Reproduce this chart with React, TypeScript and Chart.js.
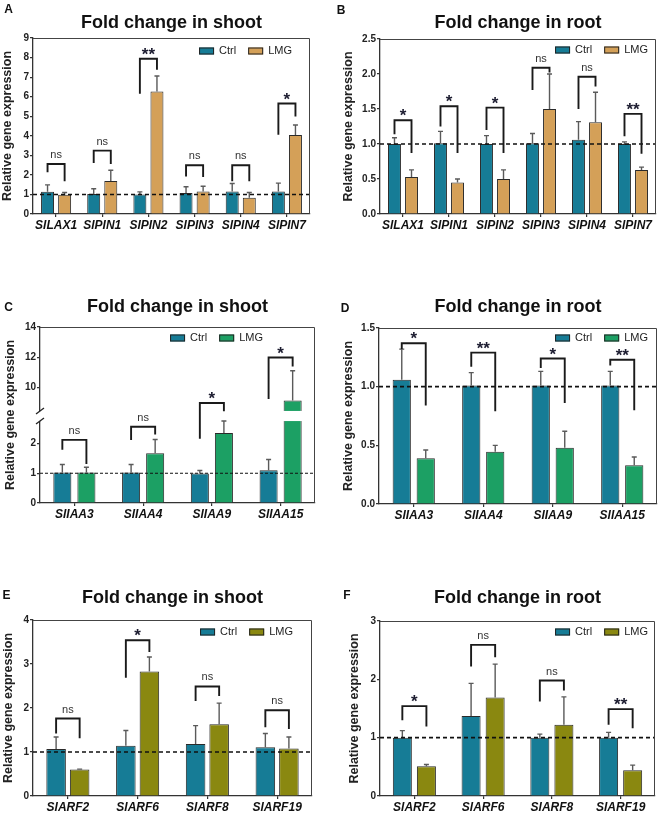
import React, { useEffect, useRef } from "react";
import { Chart, registerables } from "chart.js";
Chart.register(...registerables);

const FONT = '"Liberation Sans", Arial, sans-serif';
const CTRL_COLOR = "#167c96";
const TAN = "#d4a058";
const GREEN = "#1ca064";
const OLIVE = "#8a8810";

// ---------- Panel A: auxin transport genes, shoot ----------
const catsA = ["SlLAX1", "SlPIN1", "SlPIN2", "SlPIN3", "SlPIN4", "SlPIN7"];
const ctrlA = [1.14, 1.02, 1.0, 1.07, 1.15, 1.15];
const ctrlErrA = [1.49, 1.29, 1.13, 1.39, 1.56, 1.58];
const lmgA = [0.98, 1.69, 6.27, 1.15, 0.83, 4.04];
const lmgErrA = [1.1, 2.24, 7.06, 1.42, 1.1, 4.55];
const brTopA = [2.56, 3.24, 7.94, 2.49, 2.49, 5.65];
const brLeftA = [2.13, 2.61, 6.15, 1.92, 1.67, 4.05];
const brRightA = [1.67, 2.56, 7.38, 1.89, 1.67, 4.99];
const sigA = ["ns", "ns", "**", "ns", "ns", "*"];
const yTicksA = [0, 1, 2, 3, 4, 5, 6, 7, 8, 9];

// ---------- Panel B: auxin transport genes, root ----------
const catsB = ["SlLAX1", "SlPIN1", "SlPIN2", "SlPIN3", "SlPIN4", "SlPIN7"];
const ctrlB = [1.0, 1.01, 1.0, 1.01, 1.06, 1.0];
const ctrlErrB = [1.09, 1.18, 1.12, 1.15, 1.32, 1.03];
const lmgB = [0.53, 0.45, 0.5, 1.5, 1.31, 0.63];
const lmgErrB = [0.63, 0.5, 0.63, 2.0, 1.74, 0.67];
const brTopB = [1.34, 1.54, 1.52, 2.09, 1.96, 1.43];
const brLeftB = [1.14, 1.25, 1.2, 1.77, 1.5, 1.11];
const brRightB = [0.87, 0.87, 0.87, 2.02, 1.82, 0.86];
const sigB = ["*", "*", "*", "ns", "ns", "**"];
const yTicksB = [0, 0.5, 1, 1.5, 2, 2.5];

// ---------- Panel C: Aux/IAA genes, shoot (broken axis) ----------
const catsC = ["SlIAA3", "SlIAA4", "SlIAA9", "SlIAA15"];
const ctrlC = [1.02, 1.02, 0.99, 1.1];
const ctrlErrC = [1.29, 1.29, 1.09, 1.46];
const lmgC = [1.02, 1.67, 2.35, 9.14];
const lmgErrC = [1.2, 2.13, 2.75, 11.1];
const brTopC = [2.12, 2.56, 8.97, 11.98];
const brLeftC = [1.79, 2.11, 2.16, 9.23];
const brRightC = [1.31, 2.3, 8.3, 11.38];
const sigC = ["ns", "ns", "*", "*"];
const yTicksC = [0, 1, 2, 10, 12, 14];

// ---------- Panel D: Aux/IAA genes, root ----------
const catsD = ["SlIAA3", "SlIAA4", "SlIAA9", "SlIAA15"];
const ctrlD = [1.06, 1.01, 1.01, 1.01];
const ctrlErrD = [1.32, 1.12, 1.13, 1.13];
const lmgD = [0.39, 0.445, 0.48, 0.33];
const lmgErrD = [0.46, 0.5, 0.62, 0.4];
const brTopD = [1.37, 1.29, 1.24, 1.23];
const brLeftD = [1.32, 1.17, 1.16, 1.18];
const brRightD = [0.84, 0.79, 0.86, 0.8];
const sigD = ["*", "**", "*", "**"];
const yTicksD = [0, 0.5, 1, 1.5];

// ---------- Panel E: ARF genes, shoot ----------
const catsE = ["SlARF2", "SlARF6", "SlARF8", "SlARF19"];
const ctrlE = [1.07, 1.14, 1.18, 1.11];
const ctrlErrE = [1.34, 1.49, 1.6, 1.42];
const lmgE = [0.6, 2.83, 1.63, 1.08];
const lmgErrE = [0.61, 3.16, 2.11, 1.34];
const brTopE = [1.76, 3.54, 2.49, 1.95];
const brLeftE = [1.42, 2.69, 2.16, 1.56];
const brRightE = [1.31, 3.27, 2.27, 1.52];
const sigE = ["ns", "*", "ns", "ns"];
const yTicksE = [0, 1, 2, 3, 4];

// ---------- Panel F: ARF genes, root ----------
const catsF = ["SlARF2", "SlARF6", "SlARF8", "SlARF19"];
const ctrlF = [1.0, 1.37, 1.0, 1.0];
const ctrlErrF = [1.12, 1.93, 1.06, 1.09];
const lmgF = [0.51, 1.69, 1.22, 0.44];
const lmgErrF = [0.54, 2.26, 1.7, 0.53];
const brTopF = [1.54, 2.59, 1.98, 1.49];
const brLeftF = [1.3, 2.22, 1.62, 1.22];
const brRightF = [1.19, 2.38, 1.81, 1.16];
const sigF = ["*", "ns", "ns", "**"];
const yTicksF = [0, 1, 2, 3];

const SERIES = ["Ctrl", "LMG"];
const Y_TITLE = "Relative gene expression";

type Brk = { lowerMax: number; upperMin: number; ratio: number; gap: number };

function makeMap(brk?: Brk) {
  if (!brk) return (v: number) => v;
  return (v: number) => {
    if (v <= brk.lowerMax) return v;
    if (v < brk.upperMin)
      return brk.lowerMax + (brk.gap * (v - brk.lowerMax)) / (brk.upperMin - brk.lowerMax);
    return brk.lowerMax + brk.gap + (v - brk.upperMin) * brk.ratio;
  };
}

const panels: any[] = [
  {
    letter: "A", title: "Fold change in shoot", cats: catsA, ctrl: ctrlA, ctrlErr: ctrlErrA,
    lmg: lmgA, lmgErr: lmgErrA, brTop: brTopA, brLeft: brLeftA, brRight: brRightA, sig: sigA,
    ticks: yTicksA, decimals: 0, lmgColor: TAN,
    box: { x: 0, y: 0, w: 330, h: 232 }, plot: { l: 33, t: 38, r: 310, b: 214 },
    titleY: 23, letterPos: [8.5, 10], yTitleX: 8, legendRight: 292, legendY: 51,
    catPct: 0.74, barPct: 0.76, dash: [4, 3], dashW: 1.6,
  },
  {
    letter: "B", title: "Fold change in root", cats: catsB, ctrl: ctrlB, ctrlErr: ctrlErrB,
    lmg: lmgB, lmgErr: lmgErrB, brTop: brTopB, brLeft: brLeftB, brRight: brRightB, sig: sigB,
    ticks: yTicksB, decimals: 1, lmgColor: TAN,
    box: { x: 330, y: 0, w: 330, h: 232 }, plot: { l: 380, t: 39, r: 656, b: 214 },
    titleY: 23, letterPos: [341, 11], yTitleX: 349, legendRight: 648, legendY: 50,
    catPct: 0.74, barPct: 0.76, dash: [4, 3], dashW: 1.6,
  },
  {
    letter: "C", title: "Fold change in shoot", cats: catsC, ctrl: ctrlC, ctrlErr: ctrlErrC,
    lmg: lmgC, lmgErr: lmgErrC, brTop: brTopC, brLeft: brLeftC, brRight: brRightC, sig: sigC,
    ticks: yTicksC, decimals: 0, lmgColor: GREEN,
    brk: { lowerMax: 2.75, upperMin: 8.44, ratio: 0.5067, gap: 0.339 },
    box: { x: 0, y: 285, w: 330, h: 255 }, plot: { l: 40, t: 327, r: 315, b: 503 },
    titleY: 307, letterPos: [8.5, 307.5], yTitleX: 11, legendRight: 263, legendY: 338,
    catPct: 0.7, barPct: 0.75, dash: [3, 2], dashW: 1.1,
  },
  {
    letter: "D", title: "Fold change in root", cats: catsD, ctrl: ctrlD, ctrlErr: ctrlErrD,
    lmg: lmgD, lmgErr: lmgErrD, brTop: brTopD, brLeft: brLeftD, brRight: brRightD, sig: sigD,
    ticks: yTicksD, decimals: 1, lmgColor: GREEN,
    box: { x: 330, y: 285, w: 330, h: 255 }, plot: { l: 379, t: 328, r: 657, b: 504 },
    titleY: 307, letterPos: [345, 309], yTitleX: 349, legendRight: 648, legendY: 338,
    catPct: 0.69, barPct: 0.76, dash: [4, 3], dashW: 1.6,
  },
  {
    letter: "E", title: "Fold change in shoot", cats: catsE, ctrl: ctrlE, ctrlErr: ctrlErrE,
    lmg: lmgE, lmgErr: lmgErrE, brTop: brTopE, brLeft: brLeftE, brRight: brRightE, sig: sigE,
    ticks: yTicksE, decimals: 0, lmgColor: OLIVE,
    box: { x: 0, y: 575, w: 330, h: 238 }, plot: { l: 33, t: 620, r: 312, b: 796 },
    titleY: 598, letterPos: [6.5, 596], yTitleX: 9, legendRight: 293, legendY: 632,
    catPct: 0.675, barPct: 0.83, dash: [4, 3], dashW: 1.6,
  },
  {
    letter: "F", title: "Fold change in root", cats: catsF, ctrl: ctrlF, ctrlErr: ctrlErrF,
    lmg: lmgF, lmgErr: lmgErrF, brTop: brTopF, brLeft: brLeftF, brRight: brRightF, sig: sigF,
    ticks: yTicksF, decimals: 0, lmgColor: OLIVE,
    box: { x: 330, y: 575, w: 330, h: 238 }, plot: { l: 380, t: 621, r: 655, b: 796 },
    titleY: 598, letterPos: [347, 596], yTitleX: 355, legendRight: 648, legendY: 632,
    catPct: 0.7, barPct: 0.79, dash: [4, 3], dashW: 1.6,
  },
];

function Panel({ cfg }: { cfg: any }) {
  const ref = useRef<HTMLCanvasElement>(null);
  useEffect(() => {
    const canvas = ref.current;
    if (!canvas) return;
    const f = makeMap(cfg.brk);
    const { box, plot } = cfg;
    const titleSize = 18;
    const titleLH = titleSize * 1.2;
    const tTop = cfg.titleY - box.y - titleLH / 2;
    const tBottom = plot.t - box.y - tTop - titleLH;
    const yTitleSize = 12.5;
    const yTitleLH = yTitleSize * 1.2;

    const annot = {
      id: "annot" + cfg.letter,
      afterDatasetsDraw(chart: any) {
        const { ctx, chartArea: ca } = chart;
        const ys = chart.scales.y;
        const py = (v: number) => ys.getPixelForValue(f(v));
        const m0 = chart.getDatasetMeta(0);
        const m1 = chart.getDatasetMeta(1);
        ctx.save();
        if (cfg.brk) {
          const yA = py(cfg.brk.upperMin);
          const yB = py(cfg.brk.lowerMax);
          [m0, m1].forEach((m: any, di: number) => {
            const vals = di === 0 ? cfg.ctrl : cfg.lmg;
            m.data.forEach((el: any, j: number) => {
              if (vals[j] > cfg.brk.lowerMax) {
                ctx.fillStyle = "#ffffff";
                ctx.fillRect(el.x - el.width / 2 - 1, yA, el.width + 2, yB - yA);
              }
            });
          });
        }
        ctx.strokeStyle = "#5a5a5a";
        ctx.lineWidth = 1.4;
        [[m0, cfg.ctrlErr], [m1, cfg.lmgErr]].forEach(([m, errs]: any) => {
          m.data.forEach((el: any, j: number) => {
            const ye = py(errs[j]);
            ctx.beginPath();
            ctx.moveTo(el.x, el.y);
            ctx.lineTo(el.x, ye);
            ctx.moveTo(el.x - 2.5, ye);
            ctx.lineTo(el.x + 2.5, ye);
            ctx.stroke();
          });
        });
        ctx.setLineDash(cfg.dash);
        ctx.strokeStyle = "#111";
        ctx.lineWidth = cfg.dashW;
        ctx.beginPath();
        ctx.moveTo(ca.left, py(1));
        ctx.lineTo(ca.right, py(1));
        ctx.stroke();
        ctx.setLineDash([]);
        ctx.strokeStyle = "#1a1a1a";
        ctx.lineWidth = 1.9;
        ctx.lineJoin = "miter";
        cfg.cats.forEach((_: string, j: number) => {
          const xl = m0.data[j].x;
          const xr = m1.data[j].x;
          const yT = py(cfg.brTop[j]);
          ctx.beginPath();
          ctx.moveTo(xl, py(cfg.brLeft[j]));
          ctx.lineTo(xl, yT);
          ctx.lineTo(xr, yT);
          ctx.lineTo(xr, py(cfg.brRight[j]));
          ctx.stroke();
          const s = cfg.sig[j];
          const xc = (xl + xr) / 2;
          ctx.textAlign = "center";
          ctx.textBaseline = "alphabetic";
          if (s === "ns") {
            ctx.font = `11px ${FONT}`;
            ctx.fillStyle = "#333";
            ctx.fillText(s, xc, yT - 6);
          } else {
            ctx.font = `bold 17px ${FONT}`;
            ctx.fillStyle = "#1c1c30";
            ctx.fillText(s, xc, yT + 1);
          }
        });
        ctx.strokeStyle = "#444";
        ctx.lineWidth = 1;
        ctx.beginPath();
        ctx.moveTo(ca.left, ca.top + 0.5);
        ctx.lineTo(ca.right - 0.5, ca.top + 0.5);
        ctx.lineTo(ca.right - 0.5, ca.bottom);
        ctx.stroke();
        if (cfg.brk) {
          const yA = py(cfg.brk.upperMin);
          const yB = py(cfg.brk.lowerMax);
          ctx.fillStyle = "#fff";
          ctx.fillRect(ca.left - 2, yA, 4, yB - yA);
          ctx.strokeStyle = "#222";
          ctx.lineWidth = 1.3;
          [yA, yB].forEach((yy: number) => {
            ctx.beginPath();
            ctx.moveTo(ca.left - 4, yy + 3);
            ctx.lineTo(ca.left + 4, yy - 3);
            ctx.stroke();
          });
        }
        ctx.restore();
      },
      afterDraw(chart: any) {
        const { ctx } = chart;
        ctx.save();
        ctx.font = `11px ${FONT}`;
        const items = chart.data.datasets.map((ds: any) => ({ label: ds.label, color: ds.backgroundColor }));
        const bw = 15, bh = 7, gapT = 5, gapI = 12;
        const widths = items.map((it: any) => bw + gapT + ctx.measureText(it.label).width);
        const total = widths.reduce((a: number, b: number) => a + b, 0) + gapI * (items.length - 1);
        let x = cfg.legendRight - box.x - total;
        const yc = cfg.legendY - box.y;
        items.forEach((it: any, i: number) => {
          ctx.fillStyle = it.color;
          ctx.fillRect(x, yc - bh / 2, bw, bh);
          ctx.strokeStyle = "#222";
          ctx.lineWidth = 1;
          ctx.strokeRect(x + 0.5, yc - bh / 2 + 0.5, bw - 1, bh - 1);
          ctx.fillStyle = "#222";
          ctx.textAlign = "left";
          ctx.textBaseline = "middle";
          ctx.fillText(it.label, x + bw + gapT, yc);
          x += widths[i] + gapI;
        });
        ctx.font = `bold 12px ${FONT}`;
        ctx.fillStyle = "#111";
        ctx.textAlign = "center";
        ctx.textBaseline = "middle";
        ctx.fillText(cfg.letter, cfg.letterPos[0] - box.x, cfg.letterPos[1] - box.y);
        ctx.restore();
      },
    };

    const tickLabels = cfg.ticks.map((v: number) => v.toFixed(cfg.decimals));
    const chart = new Chart(canvas, {
      type: "bar",
      data: {
        labels: cfg.cats,
        datasets: [
          {
            label: SERIES[0], data: cfg.ctrl.map(f), backgroundColor: CTRL_COLOR,
            borderColor: "#2a2a2a", borderWidth: 1,
            categoryPercentage: cfg.catPct, barPercentage: cfg.barPct,
          },
          {
            label: SERIES[1], data: cfg.lmg.map(f), backgroundColor: cfg.lmgColor,
            borderColor: "#2a2a2a", borderWidth: 1,
            categoryPercentage: cfg.catPct, barPercentage: cfg.barPct,
          },
        ],
      },
      options: {
        animation: false,
        responsive: false,
        devicePixelRatio: 1,
        events: [],
        layout: { padding: { left: 0, top: 0, right: box.x + box.w - plot.r, bottom: 0 } },
        plugins: {
          legend: { display: false },
          tooltip: { enabled: false },
          title: {
            display: true, text: cfg.title, fullSize: false, color: "#111",
            font: { family: FONT, size: titleSize, weight: "bold" },
            padding: { top: tTop, bottom: tBottom },
          },
        },
        scales: {
          x: {
            afterFit: (scale: any) => { scale.height = box.y + box.h - plot.b; },
            ticks: {
              autoSkip: false, maxRotation: 0, padding: 1, color: "#111",
              font: { family: FONT, size: 12, weight: "bold", style: "italic" },
            },
            grid: { drawOnChartArea: false, offset: false, tickLength: 3, color: "#333", lineWidth: 1.2 },
            border: { color: "#333", width: 1.3 },
          },
          y: {
            min: 0,
            max: f(cfg.ticks[cfg.ticks.length - 1]),
            afterFit: (scale: any) => { scale.width = plot.l - box.x; },
            afterBuildTicks: (scale: any) => {
              scale.ticks = cfg.ticks.map((v: number) => ({ value: f(v) }));
            },
            ticks: {
              padding: 1, color: "#222",
              font: { family: FONT, size: 10, weight: "bold" },
              callback: (_v: any, idx: number) => tickLabels[idx],
            },
            grid: { drawOnChartArea: false, tickLength: 3, color: "#333", lineWidth: 1.2 },
            border: { color: "#333", width: 1.3 },
            title: {
              display: true, text: Y_TITLE, color: "#222",
              font: { family: FONT, size: yTitleSize, weight: "bold" },
              padding: { top: cfg.yTitleX - box.x - yTitleLH / 2, bottom: 0 },
            },
          },
        },
      } as any,
      plugins: [annot as any],
    });
    return () => chart.destroy();
  }, [cfg]);
  return (
    <canvas
      ref={ref}
      width={cfg.box.w}
      height={cfg.box.h}
      style={{ position: "absolute", left: cfg.box.x, top: cfg.box.y, width: cfg.box.w, height: cfg.box.h }}
    />
  );
}

export default function App() {
  return (
    <div style={{ position: "absolute", left: 0, top: 0, width: 660, height: 813, background: "#fff" }}>
      {panels.map((p) => (
        <Panel key={p.letter} cfg={p} />
      ))}
    </div>
  );
}
